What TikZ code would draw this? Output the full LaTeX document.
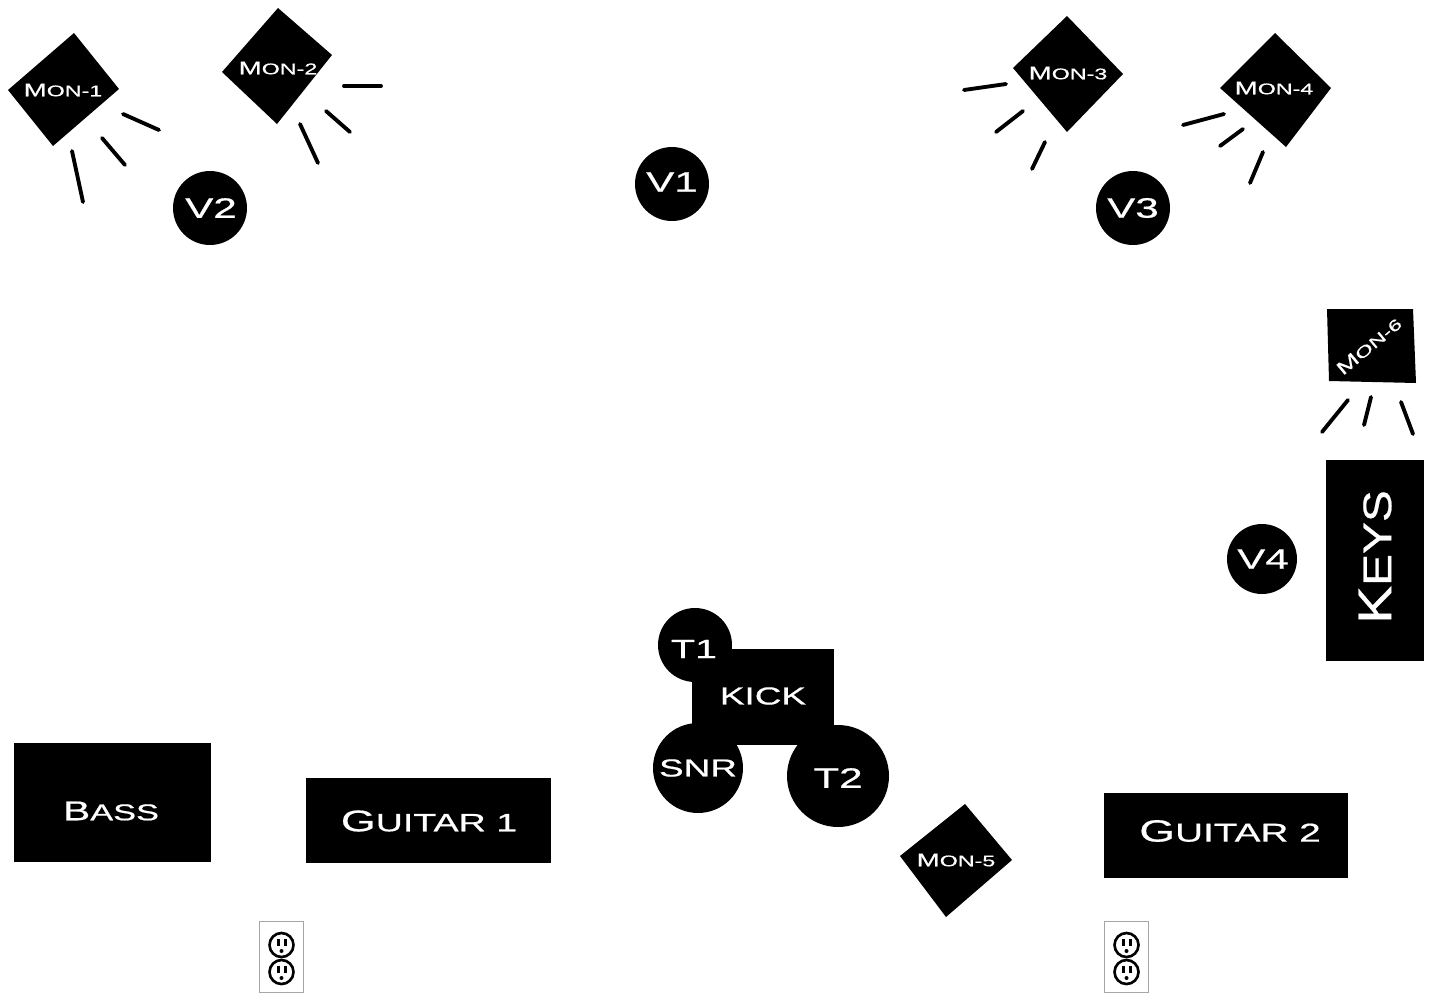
\documentclass[tikz,border=0pt]{standalone}
\usepackage{fontspec}
\setmainfont[FakeStretch=1.5,FakeBold=0.6]{Liberation Sans}
\usepackage{tikz}

% smaller letters after the capital
\newcommand{\lc}[1]{\scalebox{.84}{#1}}

\begin{document}
\begin{tikzpicture}[
        x=0.02cm, y=-0.02cm,
        cab/.style={fill=black, inner sep=0pt},
        vox/.style={cab, circle, minimum size=1.48cm},
        amp/.style={cab, minimum height=1.7cm, minimum width=4.9cm},
        wedge/.style={fill=black},
        captext/.style={text=white, inner sep=0pt, font=\fontsize{16}{16}\selectfont},
        montext/.style={captext, font=\fontsize{10.5}{10.5}\selectfont},
        ray/.style={line width=2.2pt, line cap=round},
        plate/.style={draw=gray!70, line width=0.7pt, fill=white, minimum width=0.88cm, minimum height=1.42cm, inner sep=0pt}
    ]
        \useasboundingbox (0,0) rectangle (1430,994);

        % Monitor kiri
        \fill[wedge] (74,33) -- (119,89) -- (53,146) -- (8,90) -- cycle;
        \node[montext] (mon1) at (63,90) {M\lc{ON-1}};
        \draw[ray] (72,151) -- (83,202);
        \draw[ray] (102,138) -- (125,165);
        \draw[ray] (123,114) -- (159,130);

        \fill[wedge] (278,8) -- (332,55) -- (277,124) -- (222,72) -- cycle;
        \node[montext] (mon2) at (278,68) {M\lc{ON-2}};
        \draw[ray] (344,86) -- (381,86);
        \draw[ray] (326,111) -- (350,132);
        \draw[ray] (300,124) -- (318,163);

        % Monitor kanan
        \fill[wedge] (1067,16) -- (1123,74) -- (1067,132) -- (1013,68) -- cycle;
        \node[montext] (mon3) at (1068,73) {M\lc{ON-3}};
        \draw[ray] (964,90) -- (1006,84);
        \draw[ray] (996,132) -- (1023,111);
        \draw[ray] (1032,169) -- (1045,142);

        \fill[wedge] (1275,33) -- (1331,88) -- (1286,147) -- (1220,88) -- cycle;
        \node[montext] (mon4) at (1274,88) {M\lc{ON-4}};
        \draw[ray] (1183,125) -- (1224,114);
        \draw[ray] (1220,146) -- (1243,129);
        \draw[ray] (1250,183) -- (1263,152);

        % Monitor drum
        \fill[wedge] (965,804) -- (1012,860) -- (946,917) -- (900,856) -- cycle;
        \node[montext] (mon5) at (956,860) {M\lc{ON-5}};

        % Monitor keyboard
        \fill[wedge] (1327,309) -- (1413,309) -- (1416,383) -- (1329,381) -- cycle;
        \node[montext, rotate=40] (mon6) at (1369,346) {M\lc{ON-6}};
        \draw[ray] (1322,432) -- (1348,400);
        \draw[ray] (1364,425) -- (1371,397);
        \draw[ray] (1401,402) -- (1413,434);

        % Vokal
        \node[vox] (v1) at (672,184) {};
        \node[vox] (v2) at (210,208) {};
        \node[vox] (v3) at (1133,208) {};
        \node[vox, minimum size=1.4cm] (v4) at (1262,559) {};
        \node[captext] (v1text) at (672,182) {V1};
        \node[captext] (v2text) at (211,208) {V2};
        \node[captext] (v3text) at (1133,208) {V3};
        \node[captext] (v4text) at (1263,559) {V4};

        % Drum
        \node[cab, minimum width=2.84cm, minimum height=1.92cm] (kick) at (763,697) {};
        \node[vox] (t1) at (695,645) {};
        \node[vox, minimum size=1.8cm] (snr) at (698,768) {};
        \node[vox, minimum size=2.04cm] (t2) at (838,776) {};
        \node[captext, font=\fontsize{14}{14}\selectfont] (kicktext) at (763,696) {KICK};
        \node[captext, font=\fontsize{15}{15}\selectfont] (t1text) at (694,649) {T1};
        \node[captext, font=\fontsize{14}{14}\selectfont] (snrtext) at (698,768) {SNR};
        \node[captext] (t2text) at (838,778) {T2};

        % Ampli
        \node[cab, minimum width=3.94cm, minimum height=2.38cm] (bass) at (112.5,802.5) {};
        \node[amp] (gtr1) at (428.5,820.5) {};
        \node[amp] (gtr2) at (1226,835.5) {};
        \node[cab, minimum width=1.96cm, minimum height=4.02cm] (keys) at (1375,560.5) {};
        \node[captext, font=\fontsize{15.5}{15.5}\selectfont] (basstext) at (111,811) {B\lc{ASS}};
        \node[captext, font=\fontsize{17}{17}\selectfont] (gtr1text) at (429,821) {G\lc{UITAR 1}};
        \node[captext, font=\fontsize{17.5}{17.5}\selectfont] (gtr2text) at (1230,831) {G\lc{UITAR 2}};
        \node[captext, rotate=90, font=\fontsize{27}{27}\selectfont] (keystext) at (1375,557) {\scalebox{.8}[1]{K\lc{EYS}}};

        % Stop kontak
        \foreach \px/\name in {281.5/left, 1126.5/right} {
            \node[plate] (plate\name) at (\px,957) {};
            \foreach \py in {945,972} {
                \draw[line width=1.5pt, fill=white] (\px,\py) circle (12);
                \fill (\px-5,\py-6) rectangle (\px-2,\py+1);
                \fill (\px+2,\py-6) rectangle (\px+5,\py+1);
                \fill (\px,\py+6) circle (2);
            }
        }
    \end{tikzpicture}
\end{document}
